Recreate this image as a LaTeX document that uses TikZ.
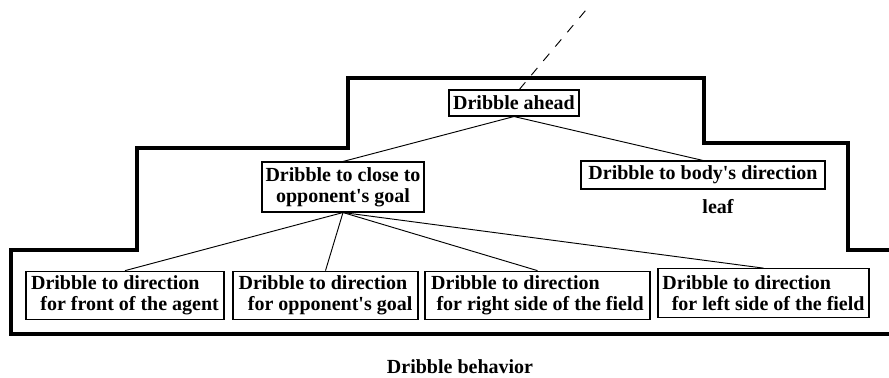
\documentclass[tikz,border=0pt]{standalone}
\usepackage{fontspec}
\setmainfont{Liberation Serif}
\usetikzlibrary{positioning}

\tikzset{
  behav/.style={draw,line width=0.8pt,inner sep=1pt,minimum height=19.5pt,
    font=\bfseries\fontsize{15}{16}\selectfont},
  leafbox/.style={behav,align=left,minimum height=36.5pt},
  link/.style={line width=0.7pt},
}

\begin{document}
\begin{tikzpicture}[x=0.75pt,y=-0.75pt]
\useasboundingbox (0,0) rectangle (889,378);

% outline of the behaviour layers
\draw[line width=2.6pt,line join=miter] (889,250) -- (848,250) -- (848,143) -- (704,143)
 -- (704,78) -- (348,78) -- (348,148) -- (137,148) -- (137,250) -- (11,250)
 -- (11,334) -- (889,334);
%
\node[behav,minimum width=97.5pt] (ahead) at (514,103) {Dribble ahead};
\node[behav,align=center,minimum width=121.5pt,minimum height=37.5pt] (close) at (343,187)
 {Dribble to close to\\opponent\textquotesingle s goal};
\node[behav,minimum width=183pt,minimum height=21pt] (body) at (703,175)
 {Dribble to body\textquotesingle s direction};
\node[font=\bfseries\fontsize{15}{16}\selectfont] (leaf) at (718,207) {leaf};
%
\node[leafbox,minimum width=148.5pt] (front) at (125,295.5)
 {Dribble to direction\\\hspace{7pt}for front of the agent};
\node[leafbox,minimum width=138.75pt] (goal) at (325.5,295.5)
 {Dribble to direction\\\hspace{7pt}for opponent\textquotesingle s goal};
\node[leafbox,minimum width=168.75pt] (right) at (537.5,295.5)
 {Dribble to direction\\\hspace{4pt}for right side of the field};
\node[leafbox,minimum width=158.25pt] (left) at (763.5,293)
 {Dribble to direction\\\hspace{7pt}for left side of the field};
%
\draw[link] (ahead.south) -- (close.north);
\draw[link] (ahead.south) -- (body.north);
\foreach \X in {front,goal,right,left}
 {\draw[link] (close.south) -- (\X.north);}
%
\coordinate (up) at (591,4);
\draw[link,dash pattern=on 7pt off 7pt] ([xshift=4pt]ahead.north) -- (up);
%
\node[font=\bfseries\fontsize{15}{16}\selectfont] (caption) at (460,367) {Dribble behavior};
\end{tikzpicture}
\end{document}
